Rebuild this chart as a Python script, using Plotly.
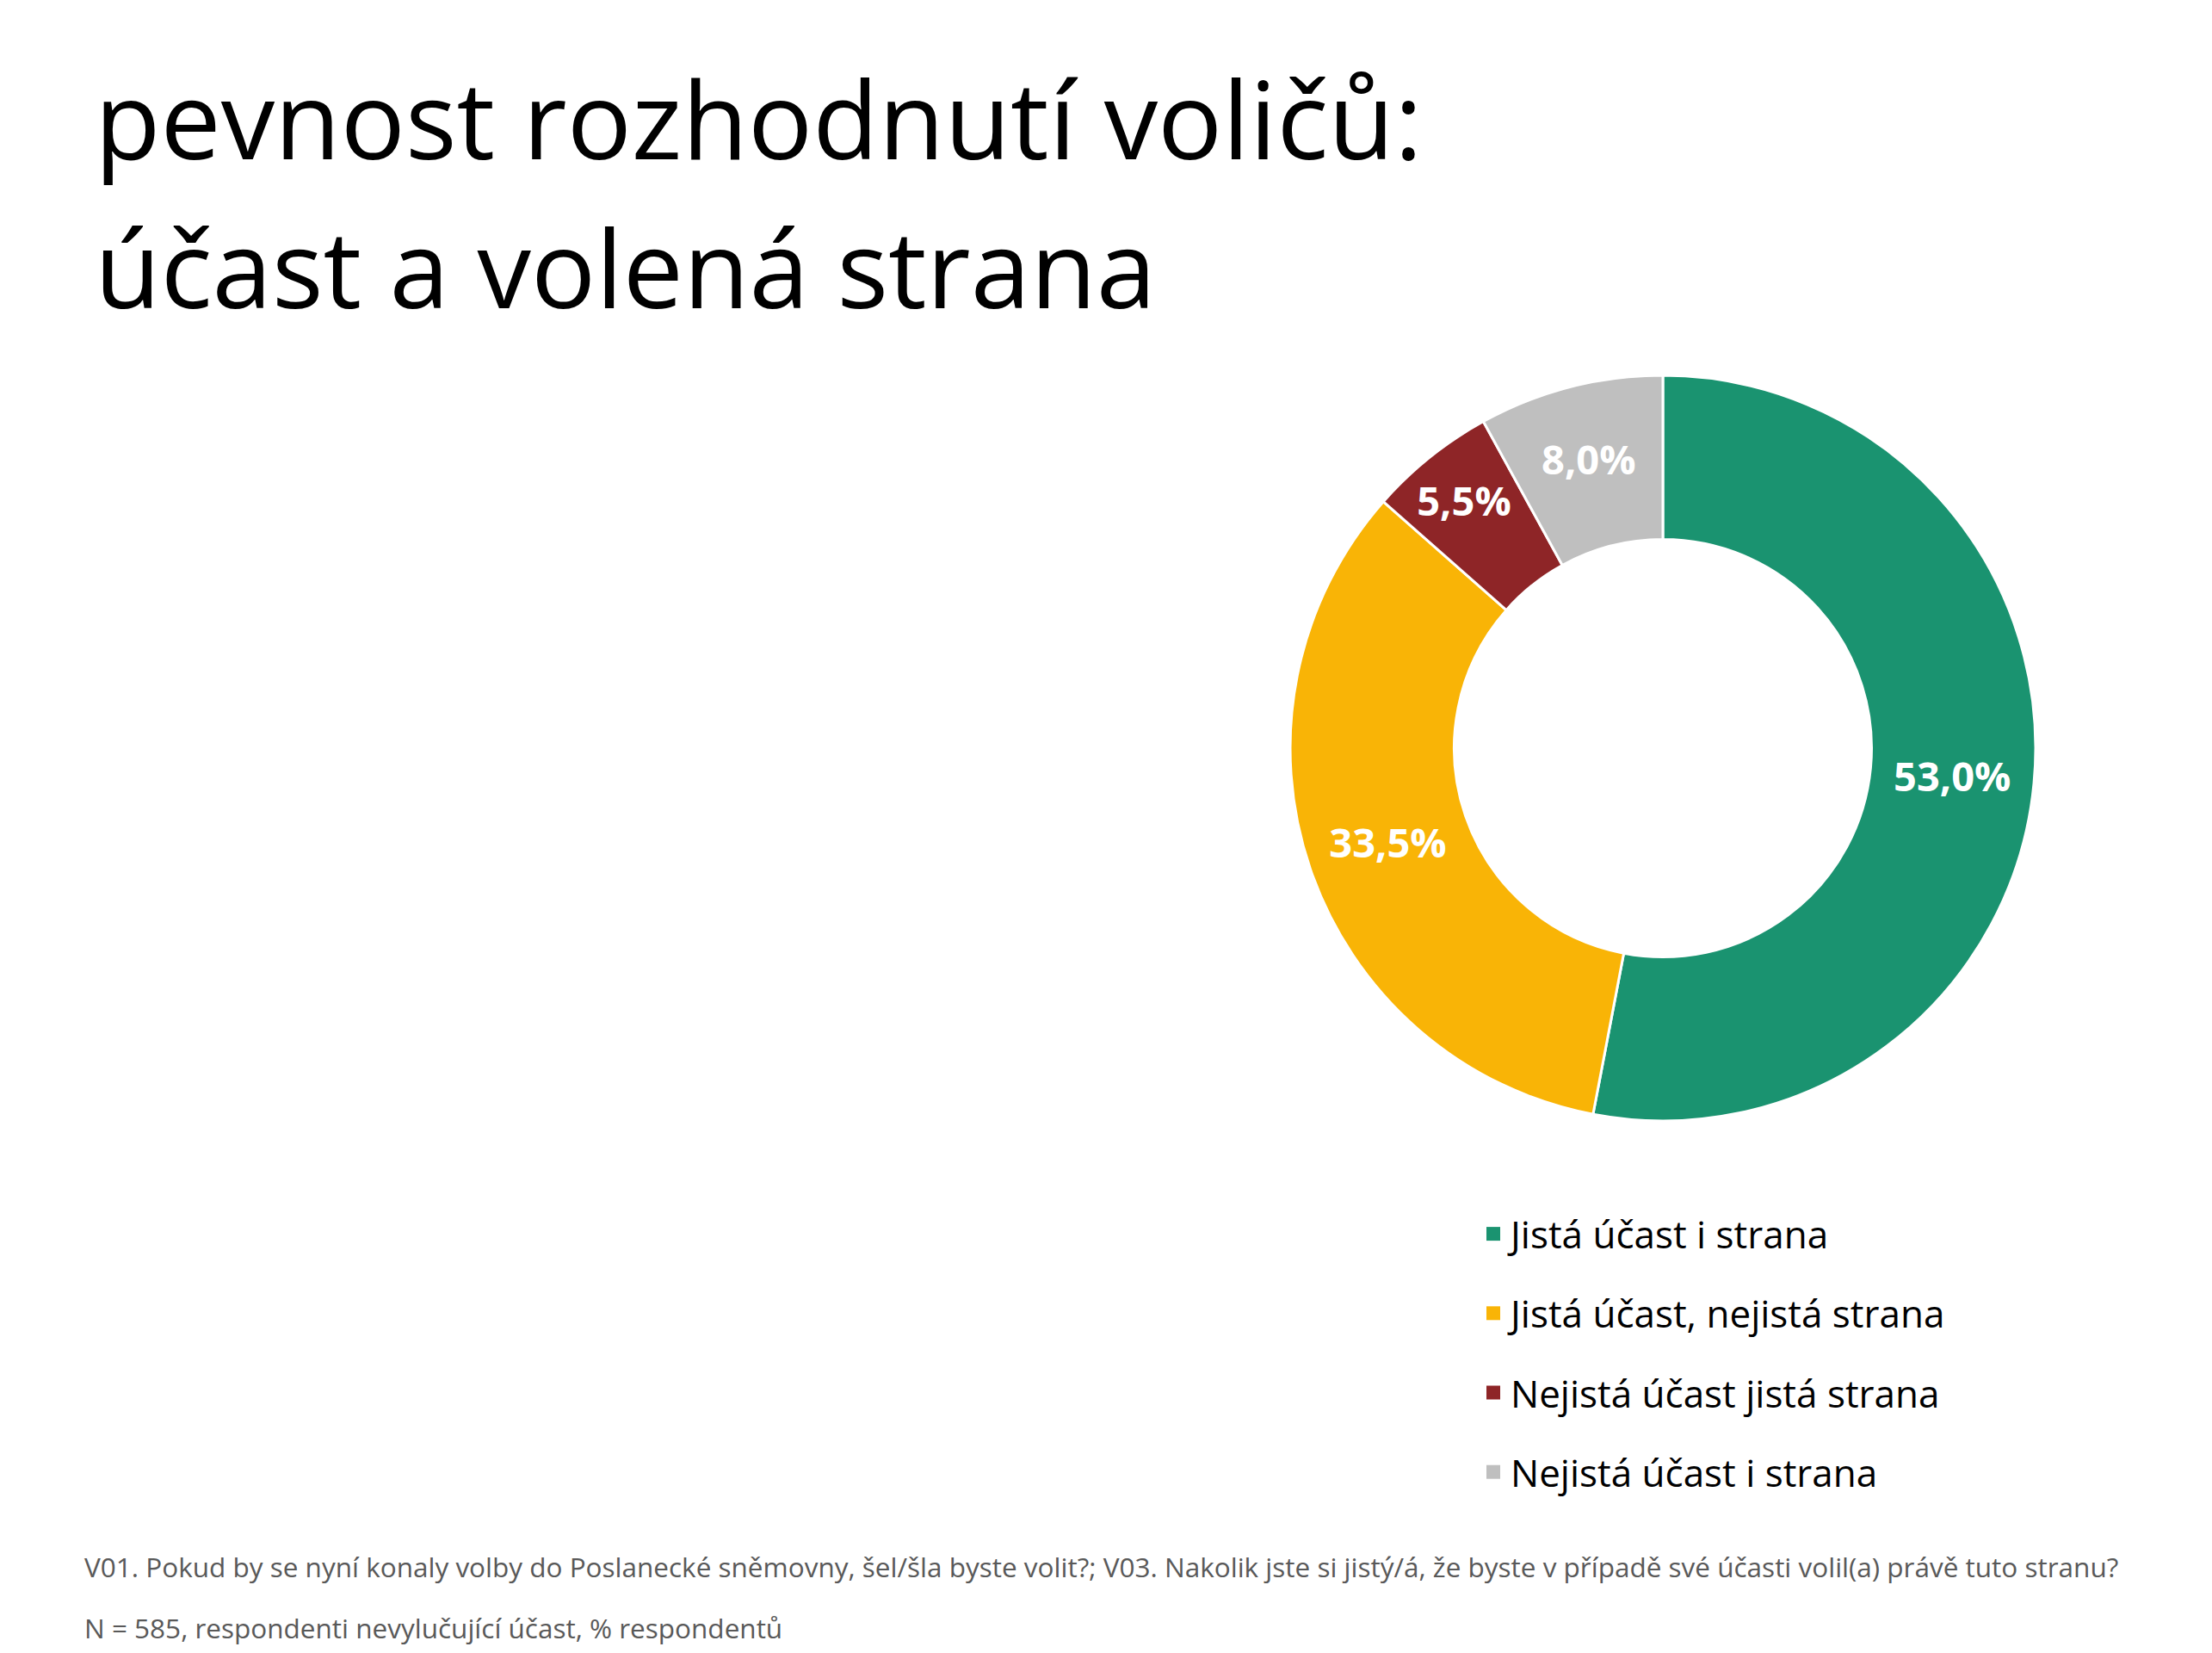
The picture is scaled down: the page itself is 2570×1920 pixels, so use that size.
import plotly.graph_objects as go

categories = ["Jistá účast i strana", "Jistá účast, nejistá strana", "Nejistá účast jistá strana", "Nejistá účast i strana"]
values = [53.0, 33.5, 5.5, 8.0]
colors = ["#1A9370", "#F9B406", "#8E2527", "#BFBFBF"]
title_lines = ["pevnost rozhodnutí voličů:", "účast a volená strana"]
notes = ["V01. Pokud by se nyní konaly volby do Poslanecké sněmovny, šel/šla byste volit?; V03. Nakolik jste si jistý/á, že byste v případě své účasti volil(a) právě tuto stranu?",
         "N = 585, respondenti nevylučující účast, % respondentů"]

W, H = 2570, 1920
FONT = "Open Sans"

labels_txt = [f"{v:.1f}%".replace(".", ",") for v in values]

fig = go.Figure()
fig.add_trace(go.Pie(
    labels=categories, values=values, text=labels_txt, textinfo="text",
    sort=False, direction="clockwise", rotation=0, hole=0.56,
    marker=dict(colors=colors, line=dict(color="white", width=3)),
    textposition="inside", insidetextorientation="horizontal",
    textfont=dict(family=FONT, size=47, color="white", weight="bold"),
    domain=dict(x=[1499 / W, 2365 / W], y=[1 - 1302 / H, 1 - 436 / H]),
    showlegend=False,
))

for i, (c, col) in enumerate(zip(categories, colors)):
    fig.add_trace(go.Scatter(
        x=[None], y=[None], mode="markers", name=c, legendgroup=f"g{i}",
        marker=dict(symbol="square", size=16, color=col), showlegend=True,
    ))

fig.update_xaxes(visible=False)
fig.update_yaxes(visible=False)

annotations = []
for i, t in enumerate(title_lines):
    annotations.append(dict(text=t, x=108 / W, y=1 - [184, 357][i] / H, xref="paper", yref="paper",
                            xanchor="left", yanchor="bottom", showarrow=False,
                            font=dict(family=FONT, size=125, color="black"), yshift=-40))
for i, t in enumerate(notes):
    annotations.append(dict(text=t, x=96 / W, y=1 - [1819, 1890][i] / H, xref="paper", yref="paper",
                            xanchor="left", yanchor="middle", showarrow=False,
                            font=dict(family=FONT, size=31.5, color="#595959")))

fig.update_layout(
    width=W, height=H, margin=dict(l=0, r=0, t=0, b=0),
    paper_bgcolor="white", plot_bgcolor="white",
    annotations=annotations,
    legend=dict(x=1715 / W, y=1 - 1398 / H, xanchor="left", yanchor="top",
                font=dict(family=FONT, size=44, color="black"),
                tracegroupgap=32, itemsizing="trace", bgcolor="rgba(0,0,0,0)"),
)

fig.write_html("out.html")
